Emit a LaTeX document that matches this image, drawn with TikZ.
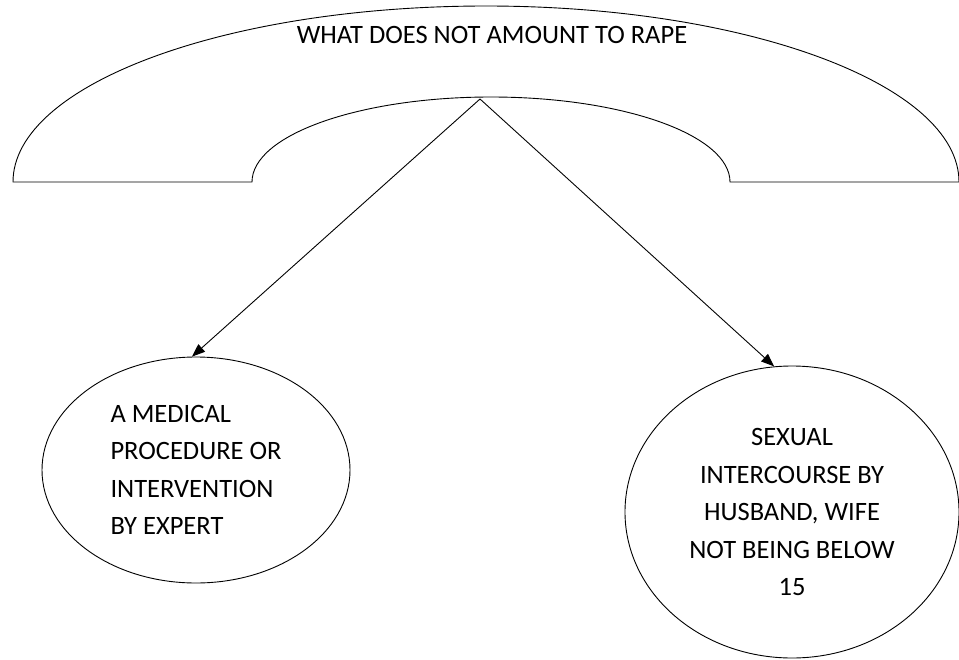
\documentclass[tikz,border=0pt]{standalone}
\usepackage{fontspec}
\setmainfont{Carlito}
\usetikzlibrary{shapes.geometric,arrows.meta}

\tikzset{
  outline/.style={draw=black, line width=0.9pt},
  bubble/.style={outline, ellipse, inner sep=0pt, font=\fontsize{26.5}{37.5}\selectfont},
  link/.style={draw=black, line width=0.9pt, -{Triangle[length=13pt,width=10pt]}},
  heading/.style={font=\fontsize{26.5}{30}\selectfont, inner sep=0pt}
}

\begin{document}
\begin{tikzpicture}[x=1pt, y=-1pt]
  \useasboundingbox (0,0) rectangle (959,659);

  % block arc holding the heading (y axis points down, so angles run 180 -> 360 over the top)
  \draw[outline, line join=miter]
    (13,182) arc[start angle=180, end angle=360, x radius=473, y radius=176]
    -- (730,182)
    arc[start angle=360, end angle=180, x radius=239, y radius=85]
    -- cycle;
  \coordinate (apex) at (480,99);

  \node[heading, anchor=base] (title) at (492,43) {WHAT DOES NOT AMOUNT TO RAPE};

  % the two exceptions
  \node[bubble, minimum width=308pt, minimum height=226pt, align=left]
    (medical) at (196,470)
    {A MEDICAL\\PROCEDURE OR\\INTERVENTION\\BY EXPERT};
  \node[bubble, minimum width=334pt, minimum height=292pt, align=center]
    (marital) at (792,512)
    {SEXUAL\\INTERCOURSE BY\\HUSBAND, WIFE\\NOT BEING BELOW\\15};

  \draw[link] (apex) -- (medical.92);
  \draw[link] (apex) -- (marital.97);
\end{tikzpicture}
\end{document}
